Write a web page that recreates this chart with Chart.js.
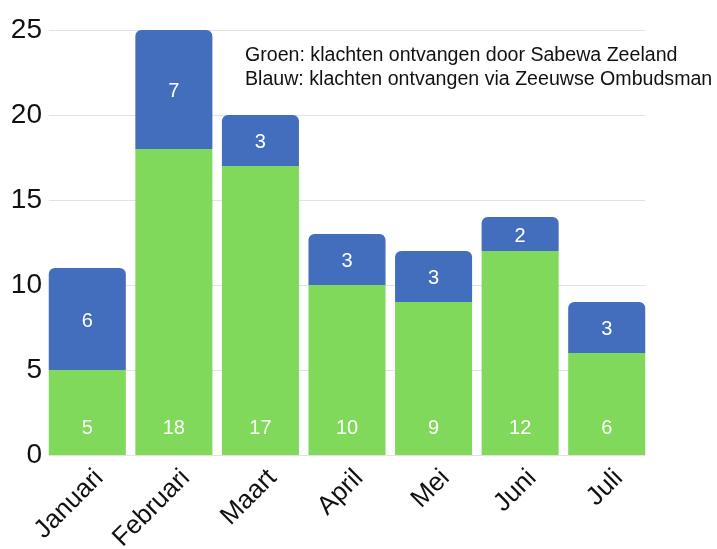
<!DOCTYPE html>
<html><head><meta charset="utf-8">
<script src="https://cdn.jsdelivr.net/npm/chart.js@4/dist/chart.umd.min.js"></script>
<style>html,body{margin:0;padding:0;background:#fff}canvas{display:block}</style>
</head><body>
<canvas id="c" width="717" height="549"></canvas>
<script>
const categories = ['Januari','Februari','Maart','April','Mei','Juni','Juli'];
const groenValues = [5,18,17,10,9,12,6];
const blauwValues = [6,7,3,3,3,2,3];
const yTicks = [0,5,10,15,20,25];
const noteLines = ['Groen: klachten ontvangen door Sabewa Zeeland','Blauw: klachten ontvangen via Zeeuwse Ombudsman'];

const FONT = '"Liberation Sans", Arial, sans-serif';

const gridPlugin = {
  id: 'grid',
  beforeDatasetsDraw(chart) {
    const ctx = chart.ctx;
    const ys = chart.scales.y;
    const meta = chart.getDatasetMeta(0);
    const first = meta.data[0], last = meta.data[meta.data.length - 1];
    const x0 = first.x - first.width / 2, x1 = last.x + last.width / 2;
    ctx.save();
    ctx.strokeStyle = '#e2e2e2';
    ctx.lineWidth = 1;
    yTicks.forEach(v => {
      const y = Math.round(ys.getPixelForValue(v)) + 0.5;
      ctx.beginPath(); ctx.moveTo(x0, y); ctx.lineTo(x1, y); ctx.stroke();
    });
    ctx.restore();
  }
};

const labelPlugin = {
  id: 'labels',
  afterDatasetsDraw(chart) {
    const ctx = chart.ctx;
    ctx.save();
    ctx.fillStyle = '#ffffff';
    ctx.font = '20px ' + FONT;
    ctx.textAlign = 'center';
    ctx.textBaseline = 'middle';
    chart.data.datasets.forEach((ds, di) => {
      const meta = chart.getDatasetMeta(di);
      meta.data.forEach((bar, i) => {
        const v = ds.data[i];
        let y;
        if (di === 0) y = bar.base - 27;
        else y = (bar.y + bar.base) / 2 + 2;
        ctx.fillText(String(v), bar.x, y);
      });
    });
    ctx.fillStyle = '#111';
    ctx.font = '19.6px ' + FONT;
    ctx.textAlign = 'left';
    ctx.textBaseline = 'alphabetic';
    ctx.fillText(noteLines[0], 245, 61);
    ctx.fillText(noteLines[1], 245, 85);
    ctx.restore();
  }
};

new Chart(document.getElementById('c'), {
  type: 'bar',
  data: {
    labels: categories,
    datasets: [
      { label: 'Groen', data: groenValues, backgroundColor: '#80d95a', borderWidth: 0, borderRadius: 0 },
      { label: 'Blauw', data: blauwValues, backgroundColor: '#436ebe', borderWidth: 0,
        borderRadius: {topLeft: 6, topRight: 6, bottomLeft: 0, bottomRight: 0}, borderSkipped: false }
    ]
  },
  options: {
    responsive: false,
    animation: false,
    layout: { padding: { top: 30, right: 67, left: 0, bottom: 0 } },
    plugins: { legend: { display: false }, tooltip: { enabled: false } },
    datasets: { bar: { categoryPercentage: 0.89, barPercentage: 1.0 } },
    scales: {
      x: {
        stacked: true,
        grid: { display: false },
        border: { display: false },
        afterFit(axis) { axis.height = 94; },
        ticks: { color: '#111', font: { size: 26, family: FONT }, minRotation: 45, maxRotation: 45, padding: 0, labelOffset: 12 }
      },
      y: {
        stacked: true,
        min: 0, max: 25,
        afterBuildTicks(axis) { axis.ticks = yTicks.map(v => ({ value: v })); },
        afterFit(axis) { axis.width = 44; },
        grid: { display: false, tickLength: 0 },
        border: { display: false },
        ticks: { color: '#111', font: { size: 28, family: FONT }, padding: 2 }
      }
    }
  },
  plugins: [gridPlugin, labelPlugin]
});
</script>
</body></html>
